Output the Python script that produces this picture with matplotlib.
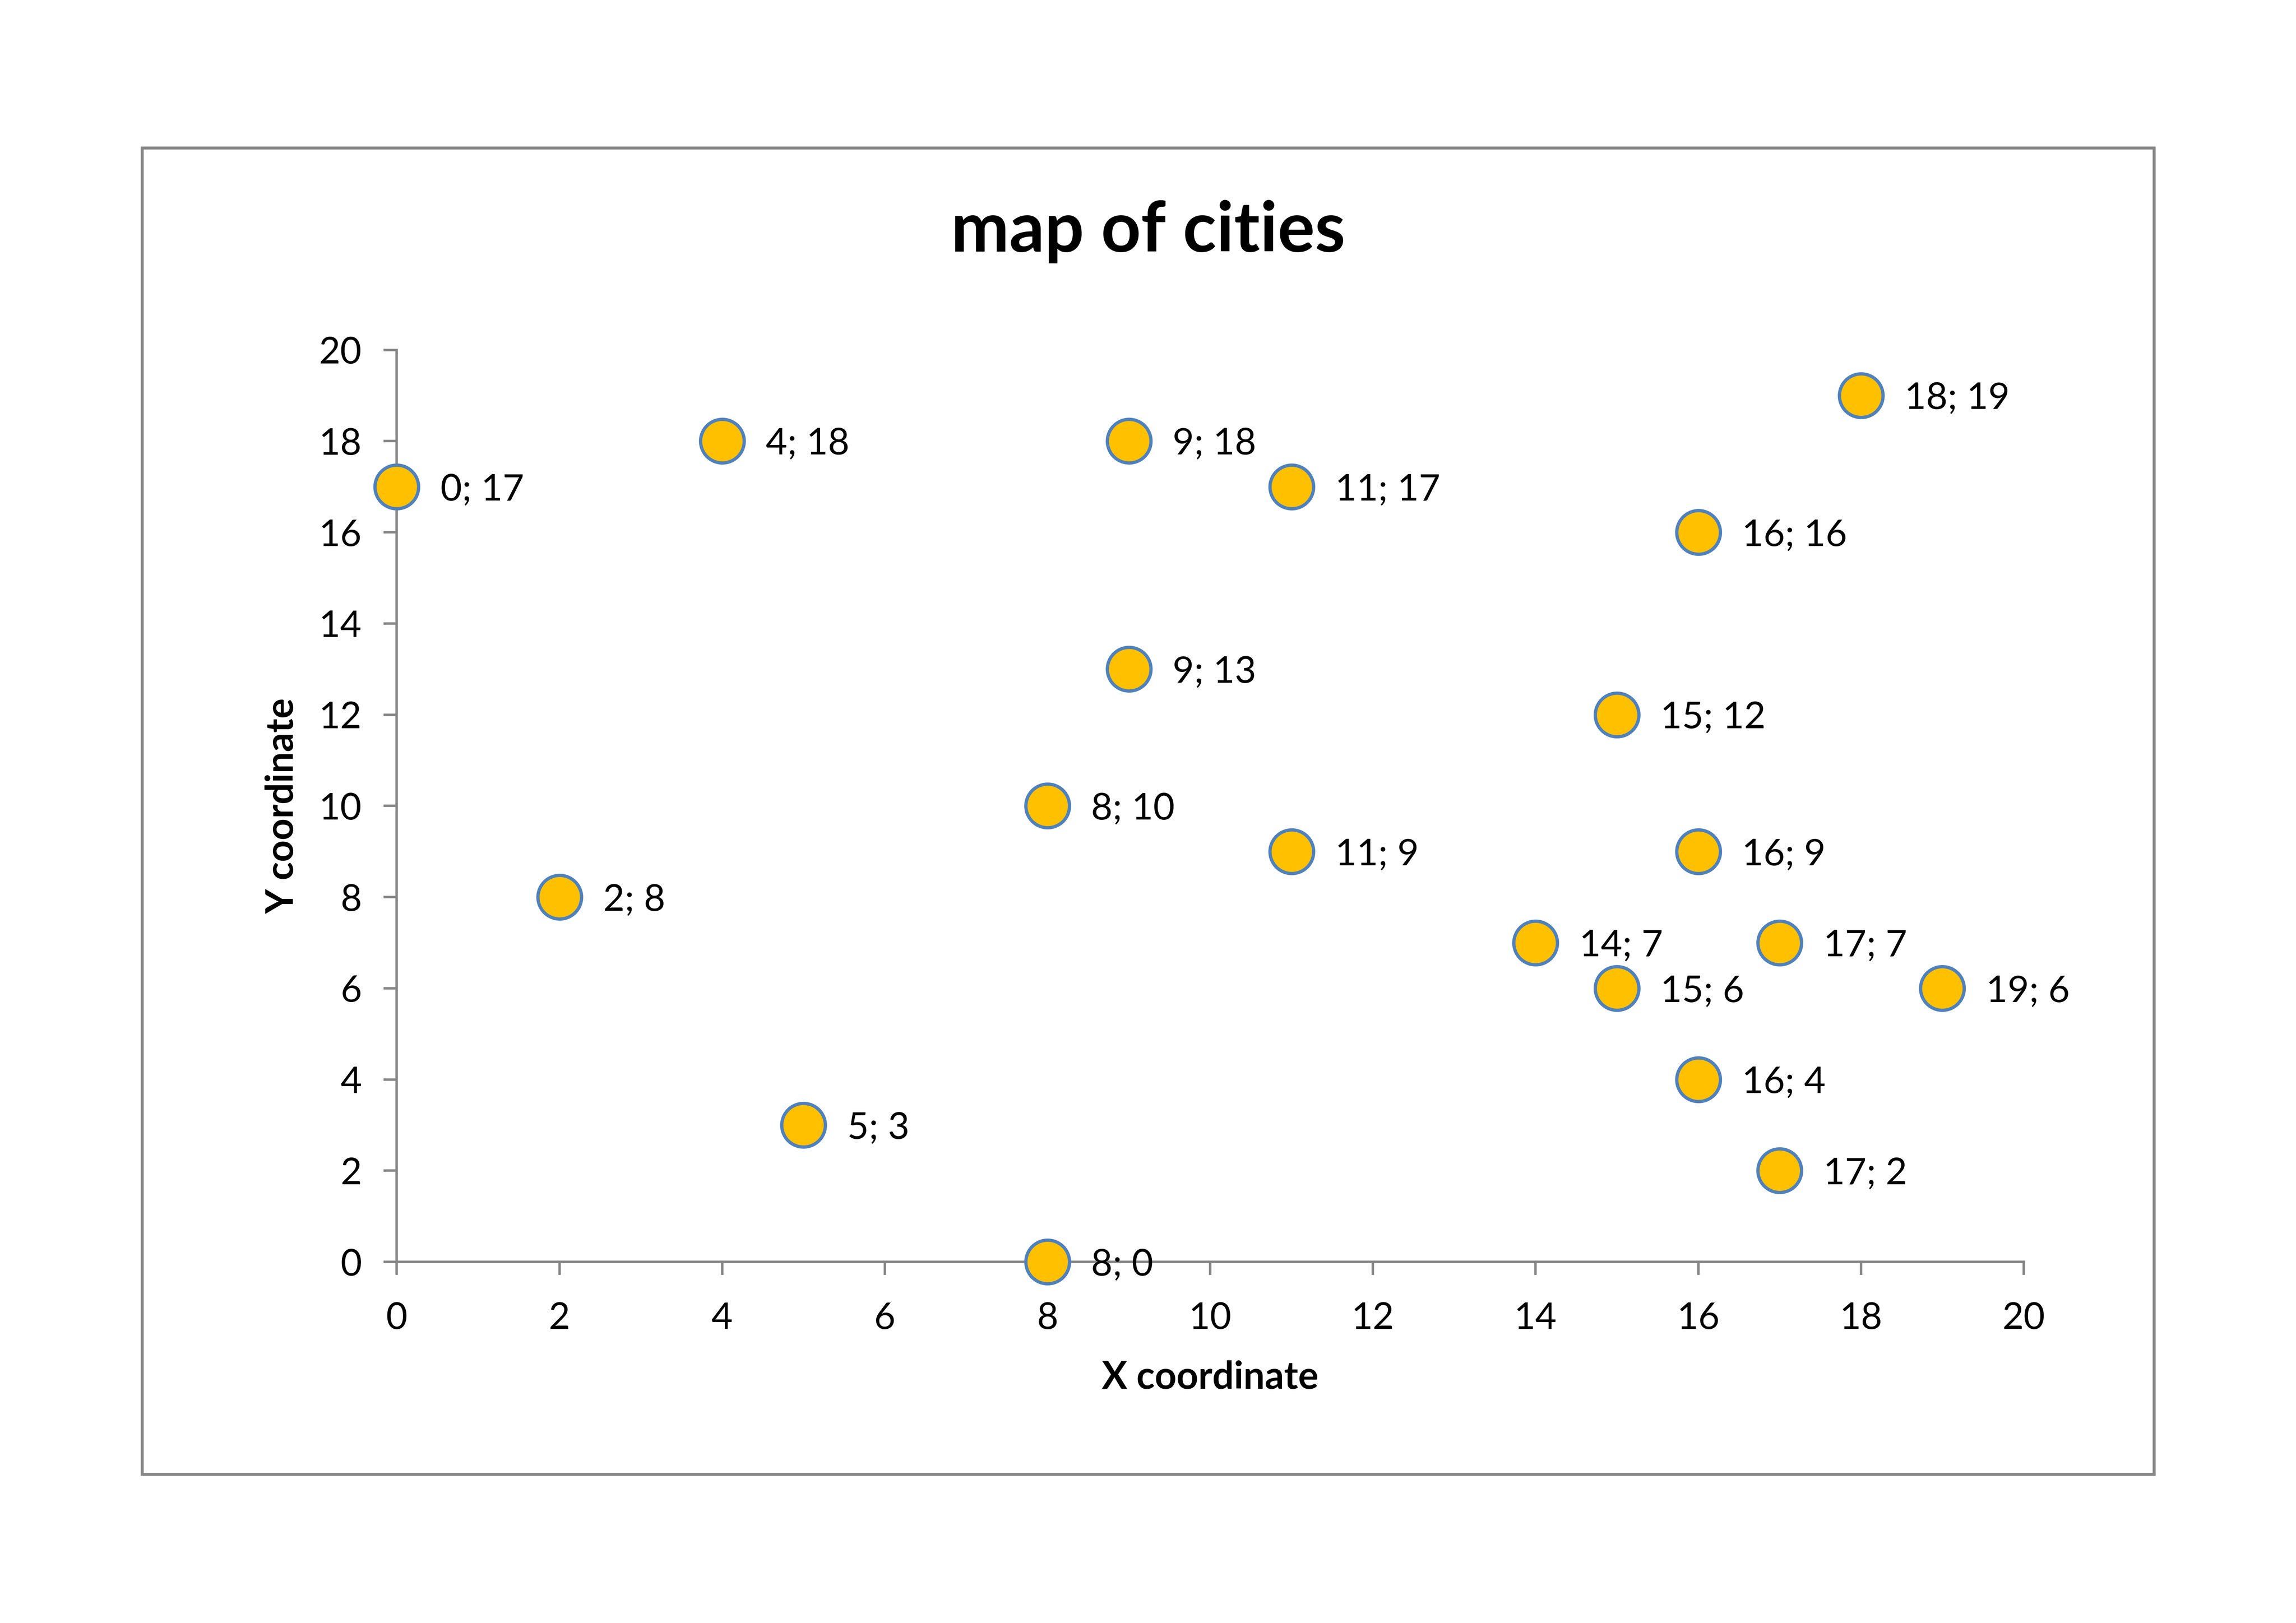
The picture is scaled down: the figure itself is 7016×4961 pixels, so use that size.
import matplotlib
matplotlib.use("Agg")
import matplotlib.pyplot as plt
from matplotlib.patches import Rectangle

plt.rcParams["font.family"] = ["Lato", "DejaVu Sans"]

# city coordinates
city_x = [0, 4, 9, 11, 18, 16, 9, 15, 8, 11, 16, 2, 14, 17, 15, 19, 16, 5, 17, 8]
city_y = [17, 18, 18, 17, 19, 16, 13, 12, 10, 9, 9, 8, 7, 7, 6, 6, 4, 3, 2, 0]
x_ticks = list(range(0, 21, 2))
y_ticks = list(range(0, 21, 2))

GRAY = "#868686"

fig = plt.figure(figsize=(7016 / 600, 4961 / 600), dpi=600)
fig.patches.append(Rectangle((0.0619, 0.0917), 0.9381 - 0.0619, 0.9089 - 0.0917,
                             transform=fig.transFigure, fill=False,
                             edgecolor=GRAY, lw=1.1, zorder=0))

ax = fig.add_axes([0.1728, 0.2225, 0.8814 - 0.1728, 0.7844 - 0.2225])
ax.scatter(city_x, city_y, s=16 ** 2, color="#FFC000", edgecolors="#4F81BD",
           linewidths=1.2, zorder=3, clip_on=False)
for x, y in zip(city_x, city_y):
    ax.annotate(f"{x}; {y}", (x, y), xytext=(16, 0), textcoords="offset points",
                ha="left", va="center_baseline", fontsize=13.6, zorder=4)

ax.set_xlim(0, 20)
ax.set_ylim(0, 20)
ax.set_xticks(x_ticks)
ax.set_yticks(y_ticks)
for side in ("top", "right"):
    ax.spines[side].set_visible(False)
for side in ("left", "bottom"):
    ax.spines[side].set_color(GRAY)
    ax.spines[side].set_linewidth(0.9)
ax.tick_params(axis="both", direction="out", length=4.8, width=0.9, color=GRAY,
               labelsize=13.5, pad=8)
ax.tick_params(axis="x", pad=9.8)

fig.text(0.5, 0.845, "map of cities", ha="center", va="baseline",
         fontsize=25.5, fontweight="bold")
fig.text(0.527, 0.151, "X coordinate", ha="center", va="center",
         fontsize=13.9, fontweight="bold")
fig.text(0.123, 0.5035, "Y coordinate", ha="center", va="center", rotation=90,
         fontsize=13.9, fontweight="bold")

fig.savefig("out.png", dpi=600)
